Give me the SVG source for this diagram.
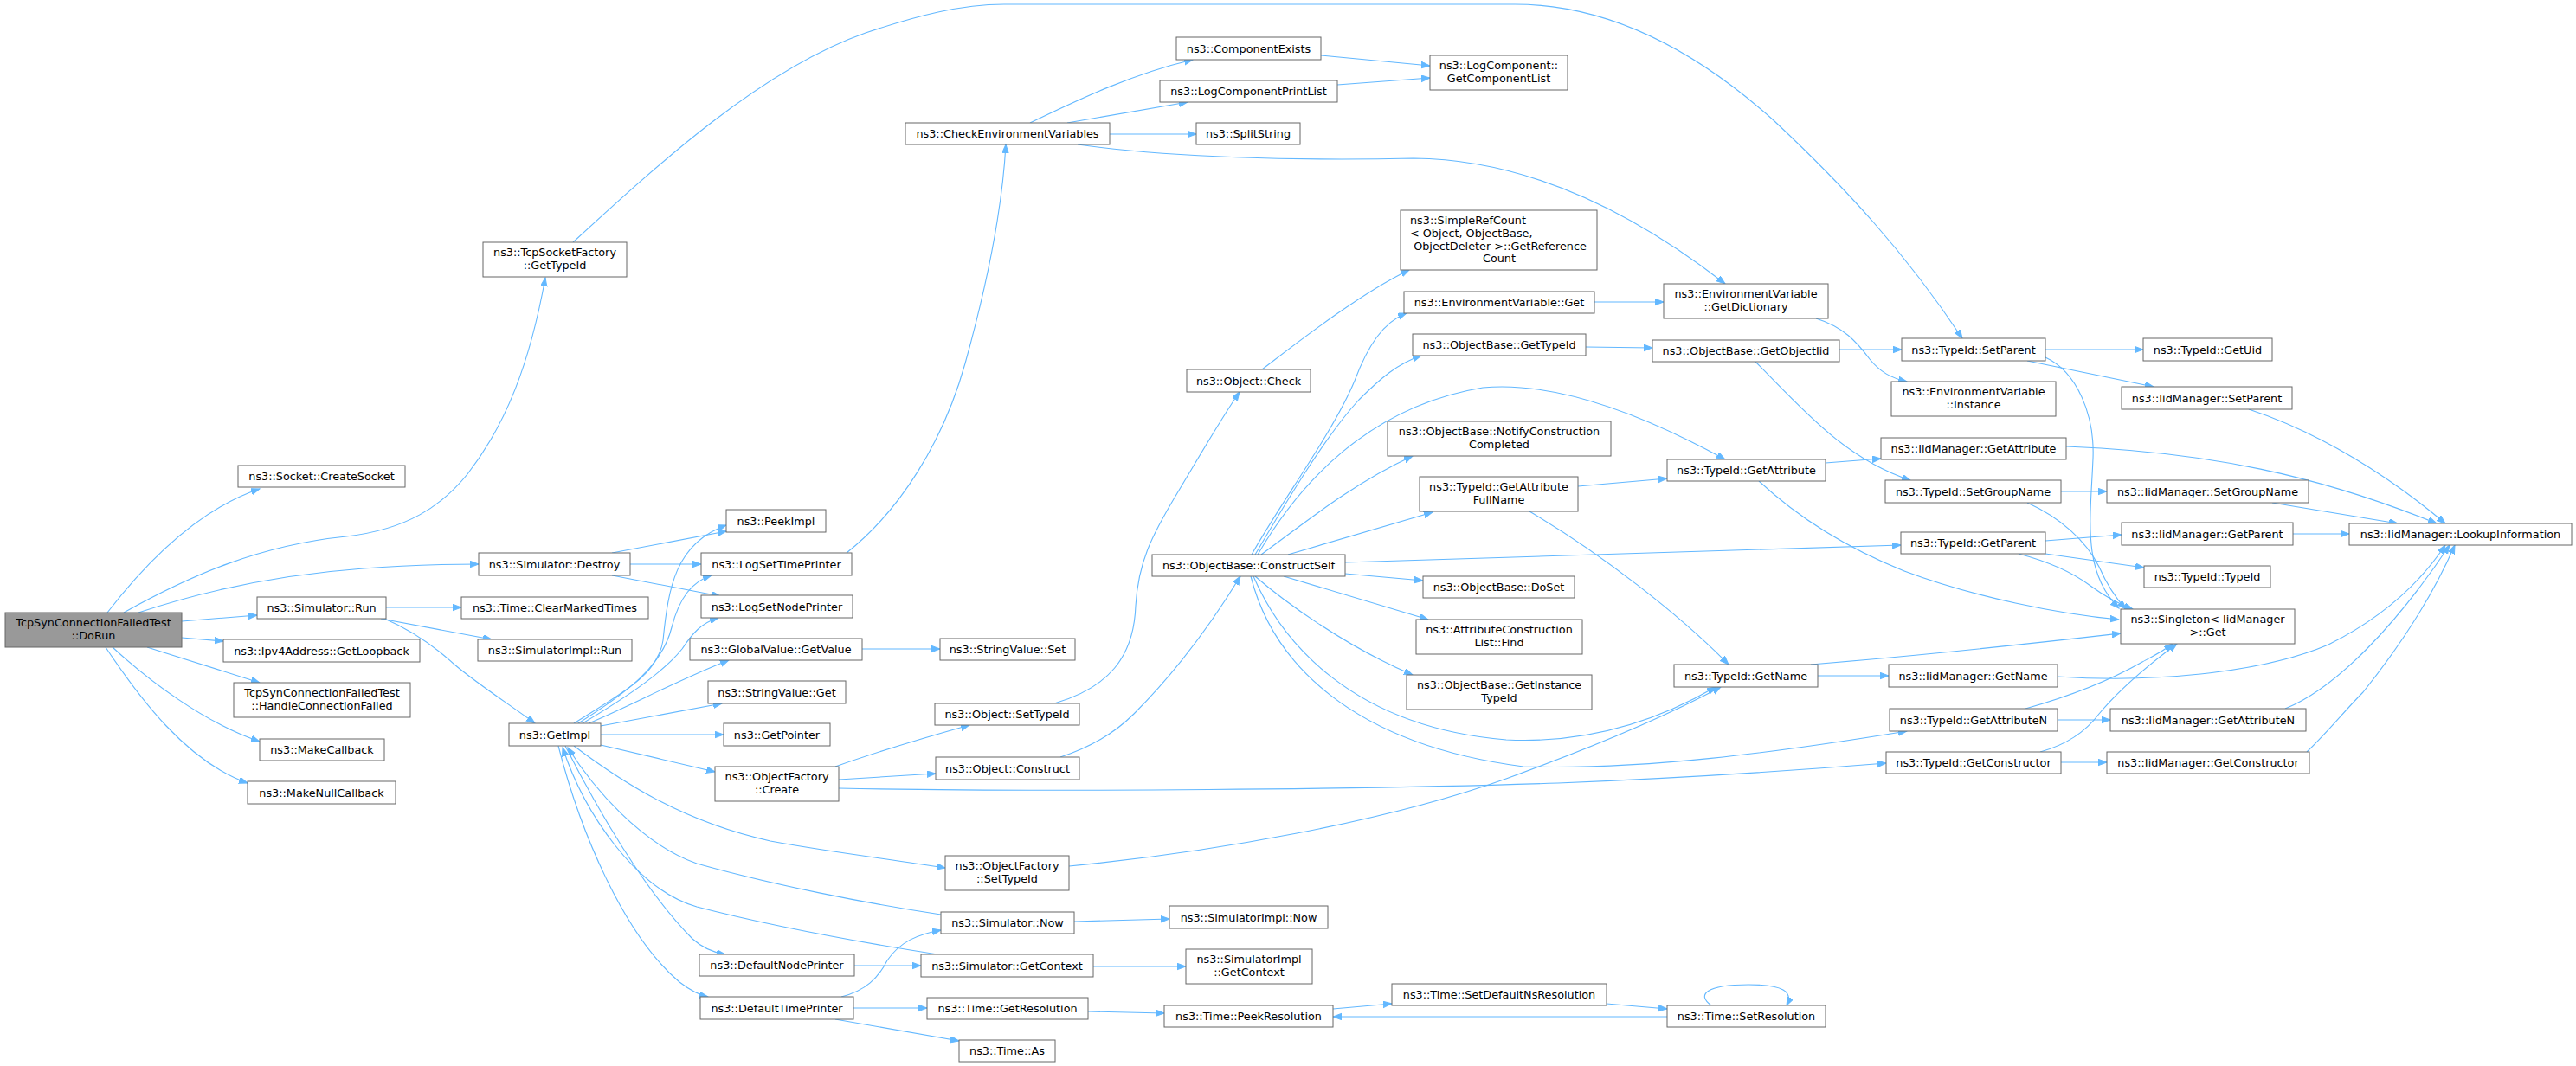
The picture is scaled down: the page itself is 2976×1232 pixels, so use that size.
<svg xmlns="http://www.w3.org/2000/svg" width="2976" height="1232" viewBox="0 0 2976 1232">
<style>
.node rect{fill:#ffffff;stroke:#666666;stroke-width:1}
.node.root rect{fill:#999999}
text{font-family:"DejaVu Sans","Liberation Sans",sans-serif;font-size:12.8px;fill:#000000;text-anchor:middle}
text.l{text-anchor:start}
.edges path{fill:none;stroke:#63b8ff;stroke-width:1.1}
</style>
<defs>
<marker id="a" markerUnits="userSpaceOnUse" markerWidth="12" markerHeight="9" refX="10" refY="3.75" orient="auto"><path d="M0,0L10,3.75L0,7.5z" fill="#63b8ff" stroke="#63b8ff" stroke-width="1"/></marker>
</defs>
<rect x="0" y="0" width="2976" height="1232" fill="#ffffff"/>
<g class="edges" marker-end="url(#a)">
<path d="M124,708 C165,655 225,590 300,565"/>
<path d="M143,708 C220,665 300,630 400,620 C470,612 510,585 540,548 C585,490 612,420 630,321"/>
<path d="M160,708 C220,688 310,665 420,657 C470,653 510,652 553,652"/>
<path d="M210,718 L297,711"/>
<path d="M210,737 L258,741"/>
<path d="M170,748 L300,789"/>
<path d="M130,748 C170,785 235,835 300,857"/>
<path d="M122,748 C160,805 215,880 286,905"/>
<path d="M446,702 L533,702"/>
<path d="M440,715 L568,739"/>
<path d="M442,714 C475,728 500,745 525,768 C555,793 590,815 618,836"/>
<path d="M707,639 L839,614"/>
<path d="M728,652 L810,652"/>
<path d="M707,665 L832,689"/>
<path d="M663,836 C720,800 760,780 766,740 C772,680 780,628 839,607"/>
<path d="M668,836 C725,800 765,770 776,725 C785,690 800,672 822,665"/>
<path d="M673,836 C730,802 768,775 788,750 C800,732 810,720 830,714"/>
<path d="M680,836 C730,815 785,785 842,763"/>
<path d="M694,839 L834,813"/>
<path d="M694,849 L836,849"/>
<path d="M694,861 L826,892"/>
<path d="M653,862 C690,935 745,1030 800,1085 C812,1096 825,1101 838,1103"/>
<path d="M645,862 C670,960 720,1080 785,1135 C798,1145 808,1150 818,1152"/>
<path d="M663,862 C720,905 790,950 890,972 C960,985 1030,993 1092,1003"/>
<path d="M1087,1057 C1000,1044 890,1022 805,998 C740,975 685,910 656,864"/>
<path d="M1083,1103 C1000,1090 890,1070 805,1048 C735,1028 675,940 650,864"/>
<path d="M987,1116 L1064,1116"/>
<path d="M972,1152 C1000,1145 1015,1130 1025,1110 C1040,1088 1060,1080 1087,1075"/>
<path d="M986,1165 L1071,1165"/>
<path d="M965,1178 L1108,1203"/>
<path d="M996,750 L1086,750"/>
<path d="M978,639 C1040,590 1090,510 1115,420 C1140,330 1158,240 1162,167"/>
<path d="M965,886 C1010,870 1070,852 1120,838"/>
<path d="M969,901 L1081,894"/>
<path d="M969,911 C1200,916 1600,912 1800,905 C1950,899 2080,890 2179,882"/>
<path d="M1218,813 C1280,795 1310,760 1312,700 C1315,650 1330,620 1360,570 C1390,520 1410,485 1432,453"/>
<path d="M1225,875 C1265,862 1290,845 1310,825 C1360,775 1400,720 1433,666"/>
<path d="M1235,1001 C1400,985 1600,950 1740,900 C1850,860 1930,825 1988,794"/>
<path d="M1241,1065 L1351,1062"/>
<path d="M1263,1117 L1370,1117"/>
<path d="M1257,1169 L1345,1171"/>
<path d="M1540,1166 L1608,1160"/>
<path d="M1856,1160 L1926,1166"/>
<path d="M1926,1175 L1540,1175"/>
<path d="M1977,1162 C1960,1150 1970,1138 2020,1138 C2060,1138 2072,1146 2064,1162"/>
<path d="M1190,142 C1250,113 1310,85 1378,69"/>
<path d="M1233,142 L1372,118"/>
<path d="M1282,155 L1382,155"/>
<path d="M1245,167 C1350,182 1500,186 1633,183 C1760,184 1880,240 1993,328"/>
<path d="M1526,64 L1652,76"/>
<path d="M1545,98 L1652,90"/>
<path d="M1458,427 C1500,395 1570,340 1628,312"/>
<path d="M1446,641 C1480,580 1540,500 1565,440 C1580,400 1598,372 1625,362"/>
<path d="M1450,641 C1480,590 1530,505 1570,462 C1595,437 1615,420 1642,411"/>
<path d="M1453,641 C1500,560 1580,470 1713,448 C1800,440 1900,480 1993,531"/>
<path d="M1457,641 C1500,610 1560,560 1632,527"/>
<path d="M1488,641 L1655,592"/>
<path d="M1554,650 C1800,642 2000,637 2196,630"/>
<path d="M1554,663 L1644,671"/>
<path d="M1483,666 C1550,686 1600,701 1650,716"/>
<path d="M1450,666 C1480,692 1550,745 1632,780"/>
<path d="M1448,666 C1480,740 1560,840 1740,855 C1840,860 1920,830 1982,794"/>
<path d="M1445,666 C1470,765 1560,860 1760,886 C1900,890 2050,870 2203,845"/>
<path d="M1823,562 L1926,553"/>
<path d="M1767,591 C1850,640 1940,710 1997,768"/>
<path d="M1842,349 L1922,349"/>
<path d="M1832,401 L1909,402"/>
<path d="M662,280 C760,190 880,80 1000,38 C1060,18 1110,5 1160,5 L1750,5 C1850,5 1950,50 2050,140 C2130,215 2200,290 2267,391"/>
<path d="M2098,368 C2130,378 2145,395 2160,415 C2172,430 2185,437 2203,441"/>
<path d="M2125,404 L2197,404"/>
<path d="M2028,418 C2080,470 2130,530 2207,555"/>
<path d="M2109,535 L2173,530"/>
<path d="M2032,556 C2090,610 2150,640 2200,660 C2280,690 2380,710 2448,716"/>
<path d="M2363,404 L2476,404"/>
<path d="M2342,417 L2488,447"/>
<path d="M2363,413 C2400,430 2420,480 2418,530 C2415,600 2405,660 2448,703"/>
<path d="M2381,568 L2434,568"/>
<path d="M2342,581 C2380,598 2410,625 2425,655 C2435,678 2445,692 2456,704"/>
<path d="M2363,625 L2451,618"/>
<path d="M2363,640 L2477,656"/>
<path d="M2332,640 C2370,650 2395,662 2415,677 C2430,688 2445,697 2464,704"/>
<path d="M2092,768 C2250,755 2380,740 2450,732"/>
<path d="M2100,781 L2182,781"/>
<path d="M2377,832 L2438,832"/>
<path d="M2340,819 C2390,805 2440,785 2475,765 C2490,757 2500,752 2510,744"/>
<path d="M2381,881 L2434,881"/>
<path d="M2357,869 C2390,860 2410,845 2425,825 C2450,795 2480,770 2515,744"/>
<path d="M2598,473 C2680,500 2760,550 2825,605"/>
<path d="M2387,516 C2550,522 2680,550 2815,605"/>
<path d="M2625,581 C2680,590 2730,598 2770,605"/>
<path d="M2649,617 L2714,617"/>
<path d="M2377,782 C2500,790 2620,775 2690,745 C2750,715 2795,675 2825,630"/>
<path d="M2640,819 C2700,795 2770,720 2830,630"/>
<path d="M2665,869 C2690,845 2710,820 2730,800 C2770,750 2810,690 2836,630"/>
</g>
<g id="n1" class="node root"><rect x="6" y="708" width="204" height="40"/><text x="108" y="724">TcpSynConnectionFailedTest</text><text x="108" y="739">::DoRun</text></g>
<g id="n2" class="node"><rect x="275" y="538" width="193" height="25"/><text x="371.5" y="555">ns3::Socket::CreateSocket</text></g>
<g id="n3" class="node"><rect x="558" y="280" width="166" height="40"/><text x="641" y="296">ns3::TcpSocketFactory</text><text x="641" y="311">::GetTypeId</text></g>
<g id="n4" class="node"><rect x="553" y="639" width="175" height="26"/><text x="640.5" y="656.5">ns3::Simulator::Destroy</text></g>
<g id="n5" class="node"><rect x="297" y="690" width="149" height="25"/><text x="371.5" y="707">ns3::Simulator::Run</text></g>
<g id="n6" class="node"><rect x="258" y="739" width="227" height="26"/><text x="371.5" y="756.5">ns3::Ipv4Address::GetLoopback</text></g>
<g id="n7" class="node"><rect x="270" y="789" width="204" height="40"/><text x="372" y="805">TcpSynConnectionFailedTest</text><text x="372" y="820">::HandleConnectionFailed</text></g>
<g id="n8" class="node"><rect x="300" y="854" width="144" height="25"/><text x="372" y="871">ns3::MakeCallback</text></g>
<g id="n9" class="node"><rect x="286" y="903" width="171" height="26"/><text x="371.5" y="920.5">ns3::MakeNullCallback</text></g>
<g id="n10" class="node"><rect x="839" y="589" width="115" height="26"/><text x="896.5" y="606.5">ns3::PeekImpl</text></g>
<g id="n11" class="node"><rect x="810" y="639" width="174" height="26"/><text x="897" y="656.5">ns3::LogSetTimePrinter</text></g>
<g id="n12" class="node"><rect x="810" y="688" width="175" height="26"/><text x="897.5" y="705.5">ns3::LogSetNodePrinter</text></g>
<g id="n13" class="node"><rect x="533" y="690" width="216" height="25"/><text x="641" y="707">ns3::Time::ClearMarkedTimes</text></g>
<g id="n14" class="node"><rect x="552" y="739" width="178" height="25"/><text x="641" y="756">ns3::SimulatorImpl::Run</text></g>
<g id="n15" class="node"><rect x="588" y="836" width="106" height="26"/><text x="641" y="853.5">ns3::GetImpl</text></g>
<g id="n16" class="node"><rect x="797" y="738" width="199" height="25"/><text x="896.5" y="755">ns3::GlobalValue::GetValue</text></g>
<g id="n17" class="node"><rect x="818" y="787" width="159" height="26"/><text x="897.5" y="804.5">ns3::StringValue::Get</text></g>
<g id="n18" class="node"><rect x="836" y="836" width="123" height="26"/><text x="897.5" y="853.5">ns3::GetPointer</text></g>
<g id="n19" class="node"><rect x="826" y="886" width="143" height="40"/><text x="897.5" y="902">ns3::ObjectFactory</text><text x="897.5" y="917">::Create</text></g>
<g id="n20" class="node"><rect x="808" y="1103" width="179" height="25"/><text x="897.5" y="1120">ns3::DefaultNodePrinter</text></g>
<g id="n21" class="node"><rect x="809" y="1152" width="177" height="26"/><text x="897.5" y="1169.5">ns3::DefaultTimePrinter</text></g>
<g id="n22" class="node"><rect x="1046" y="142" width="236" height="25"/><text x="1164" y="159">ns3::CheckEnvironmentVariables</text></g>
<g id="n23" class="node"><rect x="1359" y="43" width="167" height="26"/><text x="1442.5" y="60.5">ns3::ComponentExists</text></g>
<g id="n24" class="node"><rect x="1340" y="93" width="205" height="25"/><text x="1442.5" y="110">ns3::LogComponentPrintList</text></g>
<g id="n25" class="node"><rect x="1382" y="142" width="120" height="25"/><text x="1442" y="159">ns3::SplitString</text></g>
<g id="n26" class="node"><rect x="1652" y="64" width="159" height="40"/><text x="1731.5" y="80">ns3::LogComponent::</text><text x="1731.5" y="95">GetComponentList</text></g>
<g id="n27" class="node"><rect x="1086" y="738" width="156" height="25"/><text x="1164" y="755">ns3::StringValue::Set</text></g>
<g id="n28" class="node"><rect x="1371" y="427" width="143" height="26"/><text x="1442.5" y="444.5">ns3::Object::Check</text></g>
<g id="n29" class="node"><rect x="1080" y="813" width="167" height="25"/><text x="1163.5" y="830">ns3::Object::SetTypeId</text></g>
<g id="n30" class="node"><rect x="1081" y="875" width="166" height="26"/><text x="1164" y="892.5">ns3::Object::Construct</text></g>
<g id="n31" class="node"><rect x="1092" y="989" width="143" height="40"/><text x="1163.5" y="1005">ns3::ObjectFactory</text><text x="1163.5" y="1020">::SetTypeId</text></g>
<g id="n32" class="node"><rect x="1087" y="1054" width="154" height="25"/><text x="1164" y="1071">ns3::Simulator::Now</text></g>
<g id="n33" class="node"><rect x="1064" y="1103" width="199" height="26"/><text x="1163.5" y="1120.5">ns3::Simulator::GetContext</text></g>
<g id="n34" class="node"><rect x="1071" y="1153" width="186" height="25"/><text x="1164" y="1170">ns3::Time::GetResolution</text></g>
<g id="n35" class="node"><rect x="1108" y="1202" width="111" height="25"/><text x="1163.5" y="1219">ns3::Time::As</text></g>
<g id="n36" class="node"><rect x="1331" y="641" width="223" height="25"/><text x="1442.5" y="658">ns3::ObjectBase::ConstructSelf</text></g>
<g id="n37" class="node"><rect x="1351" y="1047" width="183" height="26"/><text x="1442.5" y="1064.5">ns3::SimulatorImpl::Now</text></g>
<g id="n38" class="node"><rect x="1370" y="1097" width="146" height="40"/><text x="1443" y="1113">ns3::SimulatorImpl</text><text x="1443" y="1128">::GetContext</text></g>
<g id="n39" class="node"><rect x="1345" y="1162" width="195" height="25"/><text x="1442.5" y="1179">ns3::Time::PeekResolution</text></g>
<g id="n40" class="node"><rect x="1618" y="243" width="227" height="69"/><text class="l" x="1629" y="259">ns3::SimpleRefCount</text><text class="l" x="1629" y="274">&lt; Object, ObjectBase,</text><text x="1733" y="289"> ObjectDeleter &gt;::GetReference</text><text x="1732" y="303">Count</text></g>
<g id="n41" class="node"><rect x="1622" y="337" width="220" height="25"/><text x="1732" y="354">ns3::EnvironmentVariable::Get</text></g>
<g id="n42" class="node"><rect x="1632" y="386" width="200" height="25"/><text x="1732" y="403">ns3::ObjectBase::GetTypeId</text></g>
<g id="n43" class="node"><rect x="1603" y="487" width="258" height="40"/><text x="1732" y="503">ns3::ObjectBase::NotifyConstruction</text><text x="1732" y="518">Completed</text></g>
<g id="n44" class="node"><rect x="1640" y="551" width="183" height="40"/><text x="1731.5" y="567">ns3::TypeId::GetAttribute</text><text x="1731.5" y="582">FullName</text></g>
<g id="n45" class="node"><rect x="1644" y="666" width="175" height="25"/><text x="1731.5" y="683">ns3::ObjectBase::DoSet</text></g>
<g id="n46" class="node"><rect x="1636" y="716" width="192" height="40"/><text x="1732" y="732">ns3::AttributeConstruction</text><text x="1732" y="747">List::Find</text></g>
<g id="n47" class="node"><rect x="1625" y="780" width="214" height="40"/><text x="1732" y="796">ns3::ObjectBase::GetInstance</text><text x="1732" y="811">TypeId</text></g>
<g id="n48" class="node"><rect x="1608" y="1137" width="248" height="25"/><text x="1732" y="1154">ns3::Time::SetDefaultNsResolution</text></g>
<g id="n49" class="node"><rect x="1922" y="328" width="190" height="40"/><text x="2017" y="344">ns3::EnvironmentVariable</text><text x="2017" y="359">::GetDictionary</text></g>
<g id="n50" class="node"><rect x="1909" y="393" width="216" height="25"/><text x="2017" y="410">ns3::ObjectBase::GetObjectIid</text></g>
<g id="n51" class="node"><rect x="1926" y="531" width="183" height="25"/><text x="2017.5" y="548">ns3::TypeId::GetAttribute</text></g>
<g id="n52" class="node"><rect x="1934" y="768" width="166" height="26"/><text x="2017" y="785.5">ns3::TypeId::GetName</text></g>
<g id="n53" class="node"><rect x="1926" y="1162" width="183" height="25"/><text x="2017.5" y="1179">ns3::Time::SetResolution</text></g>
<g id="n54" class="node"><rect x="2197" y="391" width="166" height="26"/><text x="2280" y="408.5">ns3::TypeId::SetParent</text></g>
<g id="n55" class="node"><rect x="2185" y="441" width="190" height="40"/><text x="2280" y="457">ns3::EnvironmentVariable</text><text x="2280" y="472">::Instance</text></g>
<g id="n56" class="node"><rect x="2173" y="506" width="214" height="25"/><text x="2280" y="523">ns3::IidManager::GetAttribute</text></g>
<g id="n57" class="node"><rect x="2178" y="555" width="203" height="26"/><text x="2279.5" y="572.5">ns3::TypeId::SetGroupName</text></g>
<g id="n58" class="node"><rect x="2196" y="615" width="167" height="25"/><text x="2279.5" y="632">ns3::TypeId::GetParent</text></g>
<g id="n59" class="node"><rect x="2182" y="768" width="195" height="26"/><text x="2279.5" y="785.5">ns3::IidManager::GetName</text></g>
<g id="n60" class="node"><rect x="2183" y="819" width="194" height="26"/><text x="2280" y="836.5">ns3::TypeId::GetAttributeN</text></g>
<g id="n61" class="node"><rect x="2179" y="869" width="202" height="25"/><text x="2280" y="886">ns3::TypeId::GetConstructor</text></g>
<g id="n62" class="node"><rect x="2476" y="391" width="149" height="26"/><text x="2550.5" y="408.5">ns3::TypeId::GetUid</text></g>
<g id="n63" class="node"><rect x="2451" y="447" width="197" height="26"/><text x="2549.5" y="464.5">ns3::IidManager::SetParent</text></g>
<g id="n64" class="node"><rect x="2434" y="555" width="233" height="26"/><text x="2550.5" y="572.5">ns3::IidManager::SetGroupName</text></g>
<g id="n65" class="node"><rect x="2451" y="604" width="198" height="26"/><text x="2550" y="621.5">ns3::IidManager::GetParent</text></g>
<g id="n66" class="node"><rect x="2477" y="654" width="146" height="25"/><text x="2550" y="671">ns3::TypeId::TypeId</text></g>
<g id="n67" class="node"><rect x="2450" y="704" width="201" height="40"/><text x="2550.5" y="720">ns3::Singleton&lt; IidManager</text><text x="2550.5" y="735"> &gt;::Get</text></g>
<g id="n68" class="node"><rect x="2438" y="819" width="226" height="26"/><text x="2551" y="836.5">ns3::IidManager::GetAttributeN</text></g>
<g id="n69" class="node"><rect x="2434" y="869" width="234" height="25"/><text x="2551" y="886">ns3::IidManager::GetConstructor</text></g>
<g id="n70" class="node"><rect x="2714" y="605" width="257" height="25"/><text x="2842.5" y="622">ns3::IidManager::LookupInformation</text></g>
</svg>
